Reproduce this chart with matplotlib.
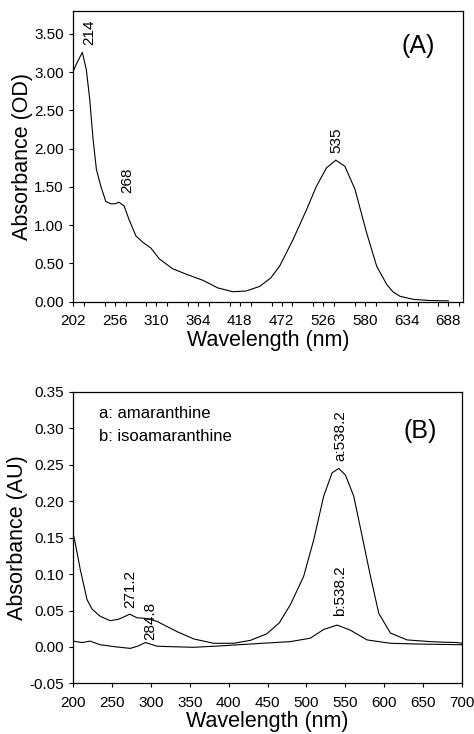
import matplotlib
matplotlib.use('Agg')
from matplotlib import pyplot as plt
from matplotlib.ticker import MultipleLocator, FormatStrFormatter

plt.rcParams['font.family'] = ['Liberation Sans', 'DejaVu Sans']

# panel A: absorbance spectrum (OD)
wl_a = [202, 208, 214.1, 219.3, 223.7, 228, 232.3, 238, 244.5, 251, 256, 261.7, 268.2,
        274.7, 283.4, 292, 302.9, 313.7, 331, 348.4, 370, 389.4, 409, 426.4, 443.7,
        458, 469.5, 486.8, 504.2, 517.2, 530.2, 542.3, 554, 567, 582.1, 595.1, 608.1,
        616, 625.4, 642.7, 664, 688]
od_a = [3.01, 3.14, 3.26, 3.03, 2.64, 2.12, 1.73, 1.51, 1.31, 1.28, 1.28, 1.30, 1.25,
        1.07, 0.86, 0.78, 0.70, 0.56, 0.43, 0.36, 0.28, 0.18, 0.13, 0.14, 0.20,
        0.31, 0.465, 0.81, 1.20, 1.51, 1.75, 1.85, 1.77, 1.47, 0.90, 0.465, 0.226,
        0.13, 0.07, 0.03, 0.015, 0.01]

# panel B: amaranthine (a) and isoamaranthine (b)
wl_b1 = [200, 201.7, 209.4, 218, 224.4, 235.1, 248, 258.6, 265, 272.8, 282.3, 295.1, 308,
         333.7, 355, 380.7, 406.5, 427.9, 449, 465, 479.3, 496.4, 509.3, 522.1, 532.9,
         541.4, 550, 560.7, 571.5, 582.2, 592.9, 607.9, 629.3, 659.3, 676.5, 693.6, 700]
au_b1 = [0.155, 0.149, 0.106, 0.065, 0.052, 0.042, 0.036, 0.038, 0.041, 0.045, 0.040,
         0.039, 0.035, 0.021, 0.011, 0.005, 0.005, 0.009, 0.018, 0.033, 0.058, 0.097,
         0.147, 0.207, 0.239, 0.245, 0.236, 0.207, 0.152, 0.097, 0.046, 0.019, 0.0096,
         0.0073, 0.0065, 0.006, 0.005]
wl_b2 = [200, 211.6, 222, 235, 252, 273.6, 283, 293, 308, 321, 355, 389, 428, 479.3,
         505, 522.1, 539.3, 556.4, 577.9, 607.9, 642, 700]
au_b2 = [0.008, 0.006, 0.008, 0.003, 0.0005, -0.002, 0.001, 0.006, 0.001, 0.0005,
         -0.0005, 0.0014, 0.004, 0.0073, 0.012, 0.024, 0.030, 0.023, 0.0096, 0.005,
         0.004, 0.003]

# peak labels: (text, x, y)
peaks_a = [('214', 223.6, 3.36), ('268', 271.7, 1.42), ('535', 542.4, 1.95)]
peaks_b = [('271.2', 273.7, 0.053), ('284.8', 299.4, 0.0096),
           ('a:538.2', 543.6, 0.255), ('b:538.2', 543.6, 0.042)]

fig = plt.figure(figsize=(4.74, 7.34), dpi=100)
ax1 = fig.add_axes([0.154, 0.589, 0.823, 0.396])
ax2 = fig.add_axes([0.154, 0.069, 0.821, 0.397])

ax1.plot(wl_a, od_a, color='black', lw=0.8)
ax1.set_xlim(202, 707)
ax1.set_ylim(0, 3.8)
ax1.set_xticks([202, 256, 310, 364, 418, 472, 526, 580, 634, 688])
ax1.xaxis.set_minor_locator(MultipleLocator(27))
ax1.set_yticks([0, 0.5, 1, 1.5, 2, 2.5, 3, 3.5])
ax1.yaxis.set_major_formatter(FormatStrFormatter('%.2f'))
ax1.set_xlabel('Wavelength (nm)', fontsize=15.5, labelpad=1)
ax1.set_ylabel('Absorbance (OD)', fontsize=15.5, labelpad=1)
for txt, x, y in peaks_a:
    ax1.text(x, y, txt, rotation=90, ha='center', va='bottom', fontsize=11)
ax1.text(649, 3.34, '(A)', ha='center', va='center', fontsize=18)

ax2.plot(wl_b1, au_b1, color='black', lw=0.8)
ax2.plot(wl_b2, au_b2, color='black', lw=0.8)
ax2.set_xlim(200, 700)
ax2.set_ylim(-0.05, 0.35)
ax2.set_xticks(range(200, 701, 50))
ax2.set_yticks([-0.05, 0, 0.05, 0.1, 0.15, 0.2, 0.25, 0.3, 0.35])
ax2.yaxis.set_major_formatter(FormatStrFormatter('%.2f'))
ax2.set_xlabel('Wavelength (nm)', fontsize=15.5, labelpad=1)
ax2.set_ylabel('Absorbance (AU)', fontsize=15.5, labelpad=1)
for txt, x, y in peaks_b:
    ax2.text(x, y, txt, rotation=90, ha='center', va='bottom', fontsize=11)
ax2.text(233, 0.320, 'a: amaranthine', ha='left', va='center', fontsize=12)
ax2.text(234, 0.289, 'b: isoamaranthine', ha='left', va='center', fontsize=12)
ax2.text(645.6, 0.297, '(B)', ha='center', va='center', fontsize=18)

for ax in (ax1, ax2):
    ax.tick_params(which='both', direction='out', length=3, width=0.8,
                   labelsize=11, top=False, right=False)
    ax.tick_params(axis='x', pad=6)
    for s in ax.spines.values():
        s.set_linewidth(0.9)

fig.savefig('out.png', dpi=100)
